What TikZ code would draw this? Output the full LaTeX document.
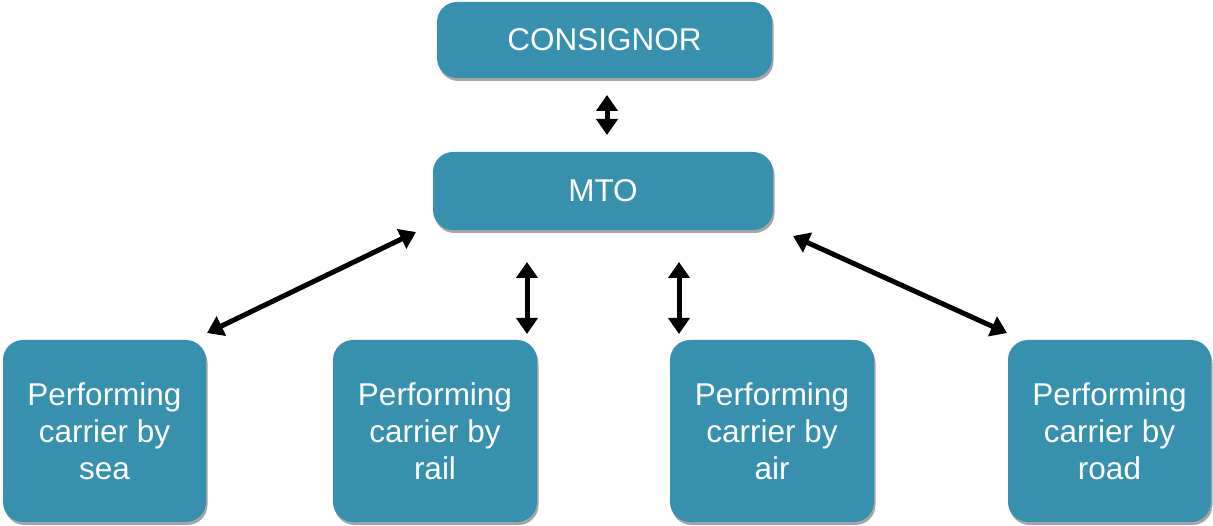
\documentclass[tikz,border=0pt]{standalone}
\usepackage{fontspec}
\setmainfont{Liberation Sans}
\usetikzlibrary{arrows.meta,shadows}
\definecolor{boxfill}{HTML}{3690AE}
\begin{document}
\begin{tikzpicture}[x=1pt,y=-1pt,
  box/.style={draw=none, fill=boxfill, rounded corners=20pt, text=white, align=center,
    font=\fontsize{31.5}{37}\selectfont,
    drop shadow={shadow xshift=1.5pt, shadow yshift=-3pt, opacity=0.35, fill=black}},
  dbl/.style={line width=5pt, {Triangle[length=16pt,width=21pt]}-{Triangle[length=16pt,width=21pt]}}]
\useasboundingbox (0,0) rectangle (1213,526);
\node[box, minimum width=335pt, minimum height=76pt] (con) at (604.5,40) {CONSIGNOR};
\node[box, minimum width=340pt, minimum height=78pt] (mto) at (603,191) {MTO};
\node[box, minimum width=203pt, minimum height=182pt] (sea) at (104.5,431) {Performing\\carrier by\\sea};
\node[box, minimum width=204pt, minimum height=182pt] (rail) at (435,431) {Performing\\carrier by\\rail};
\node[box, minimum width=204pt, minimum height=182pt] (air) at (772,431) {Performing\\carrier by\\air};
\node[box, minimum width=203pt, minimum height=182pt] (road) at (1109.5,431) {Performing\\carrier by\\road};
% arrow endpoints
\coordinate (c1) at (607,95);
\coordinate (c2) at (607,135);
\coordinate (s1) at (207,333);
\coordinate (s2) at (416,232);
\coordinate (r1) at (527,262);
\coordinate (r2) at (527,334);
\coordinate (a1) at (679,262);
\coordinate (a2) at (679,334);
\coordinate (d1) at (793,236);
\coordinate (d2) at (1007,333);
\draw[dbl] (c1) -- (c2);
\draw[dbl] (s1) -- (s2);
\draw[dbl] (r1) -- (r2);
\draw[dbl] (a1) -- (a2);
\draw[dbl] (d1) -- (d2);
\end{tikzpicture}
\end{document}
